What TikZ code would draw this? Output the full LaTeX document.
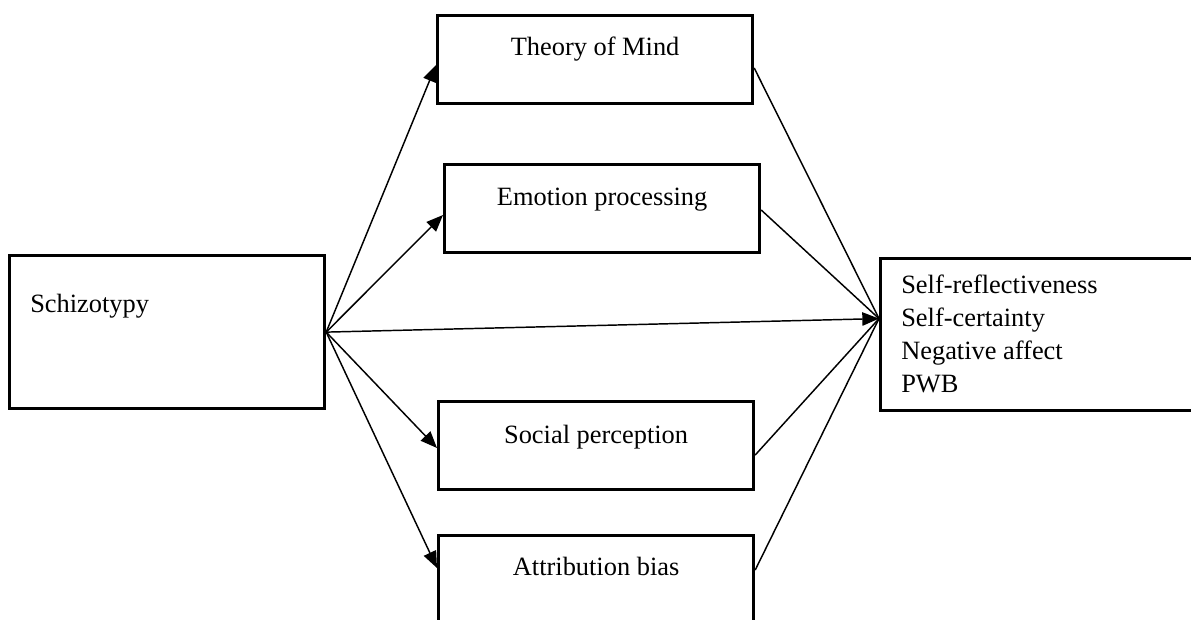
\documentclass[tikz,border=0pt]{standalone}
\usepackage{fontspec}
\setmainfont{Liberation Serif}
\usetikzlibrary{arrows.meta}
\begin{document}
\begin{tikzpicture}[x=0.75pt,y=-0.75pt,
  box/.style={draw,line width=2.4pt,anchor=north west,inner sep=0pt,
    minimum width=315*0.75pt,minimum height=88*0.75pt},
  boxtext/.style={anchor=base,inner sep=0pt,font=\fontsize{19.8}{24.75}\selectfont},
  link/.style={line width=1.1pt},
  arr/.style={link,-{Triangle[length=12.5pt,width=10pt]}}]
\useasboundingbox (0,0) rectangle (1191,619);
\clip (0,0) rectangle (1191,619);
%caixas
  \node[box,minimum height=153*0.75pt,
    label={[boxtext,anchor=base west,xshift=22*0.75pt,yshift=-58*0.75pt]north west:Schizotypy}]
    (schizo) at (8,254) {};
  \node[box,label={[boxtext,yshift=-41*0.75pt]north:Theory of Mind}] (theory) at (436,14) {};
  \node[box,label={[boxtext,yshift=-42*0.75pt]north:Emotion processing}] (emotion) at (443,163) {};
  \node[box,label={[boxtext,yshift=-43*0.75pt]north:Social perception}] (social) at (437,400) {};
  \node[box,minimum height=92*0.75pt,
    label={[boxtext,yshift=-41*0.75pt]north:Attribution bias}] (attrib) at (437,534) {};
  \node[box,minimum width=320*0.75pt,minimum height=152*0.75pt,
    label={[boxtext,align=left,anchor=north west,xshift=22*0.75pt,yshift=-18*0.75pt]north west:Self-reflectiveness\\Self-certainty\\Negative affect\\PWB}]
    (outcome) at (879,257) {};
  \coordinate (join) at ([yshift=16*0.75pt]outcome.west);
%setas
  \draw[arr] (schizo.east) -- ([yshift=-51*0.75pt]theory.north west);
  \draw[arr] (schizo.east) -- ([yshift=-52*0.75pt]emotion.north west);
  \draw[arr] (schizo.east) -- ([yshift=-48*0.75pt]social.north west);
  \draw[arr] (schizo.east) -- ([yshift=-34*0.75pt]attrib.north west);
  \draw[arr] (schizo.east) -- (join);
%linhas
  \draw[link] ([yshift=-54*0.75pt]theory.north east) -- (join);
  \draw[link] ([yshift=-47*0.75pt]emotion.north east) -- (join);
  \draw[link] ([yshift=-55*0.75pt]social.north east) -- (join);
  \draw[link] ([yshift=-36*0.75pt]attrib.north east) -- (join);
\end{tikzpicture}
\end{document}
